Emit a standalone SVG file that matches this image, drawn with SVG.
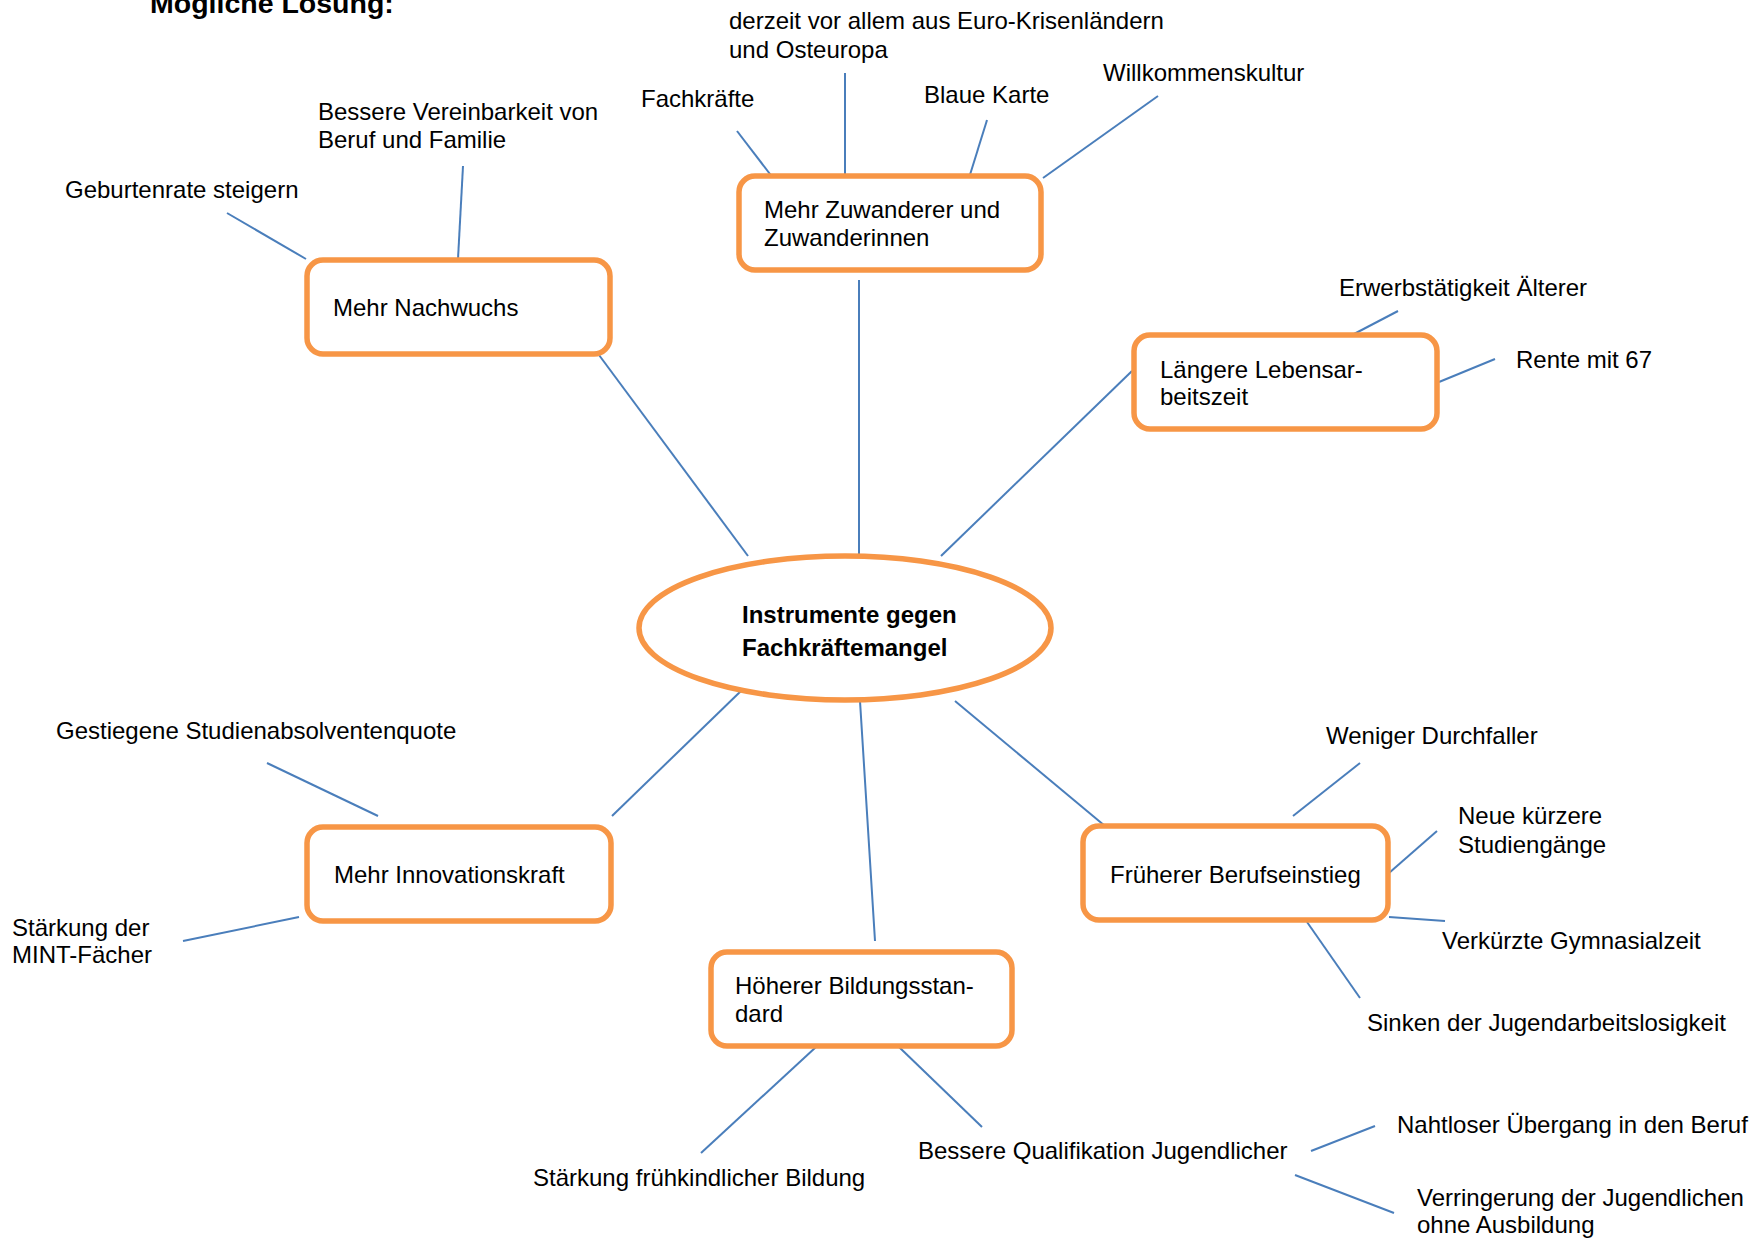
<svg xmlns="http://www.w3.org/2000/svg" width="1750" height="1239" viewBox="0 0 1750 1239">
<style>
text{font-family:"Liberation Sans",Arial,sans-serif;font-size:24px;fill:#000}
.b{font-weight:bold}
.box{fill:#fff;stroke:#F79646;stroke-width:5.5}
.c line{stroke:#4A7EBB;stroke-width:2}
</style>
<rect width="1750" height="1239" fill="#fff"/>
<text class="b" x="150" y="13" style="font-size:28.5px">Mögliche Lösung:</text>
<g class="c" id="connectors">
<line x1="599" y1="355" x2="748" y2="556"/>
<line x1="859" y1="280" x2="859" y2="556"/>
<line x1="1132" y1="371" x2="941" y2="556"/>
<line x1="742" y1="690" x2="612" y2="816"/>
<line x1="860" y1="701" x2="875" y2="941"/>
<line x1="955" y1="701" x2="1105" y2="826"/>
<line x1="227" y1="213" x2="306" y2="259"/>
<line x1="463" y1="166" x2="458" y2="259"/>
<line x1="737" y1="131" x2="773" y2="178"/>
<line x1="845" y1="73" x2="845" y2="178"/>
<line x1="987" y1="120" x2="969" y2="178"/>
<line x1="1158" y1="96" x2="1043" y2="178"/>
<line x1="1398" y1="311" x2="1354" y2="334"/>
<line x1="1495" y1="359" x2="1439" y2="382"/>
<line x1="267" y1="763" x2="378" y2="816"/>
<line x1="183" y1="941" x2="299" y2="917"/>
<line x1="1360" y1="763" x2="1293" y2="816"/>
<line x1="1437" y1="831" x2="1389" y2="873"/>
<line x1="1389" y1="917" x2="1445" y2="921"/>
<line x1="1307" y1="922" x2="1360" y2="998"/>
<line x1="816" y1="1047" x2="701" y2="1153"/>
<line x1="899" y1="1047" x2="982" y2="1127"/>
<line x1="1375" y1="1126" x2="1311" y2="1151"/>
<line x1="1295" y1="1175" x2="1394" y2="1213"/>
</g>
<g id="center">
<ellipse class="box" cx="845" cy="628" rx="206" ry="72"/>
<text class="b" x="742" y="623">Instrumente gegen</text>
<text class="b" x="742" y="656">Fachkräftemangel</text>
</g>
<g id="nachwuchs">
<rect class="box" x="307" y="260" width="303" height="94" rx="16"/>
<text x="333" y="316">Mehr Nachwuchs</text>
</g>
<g id="zuwanderer">
<rect class="box" x="739" y="176" width="302" height="94" rx="16"/>
<text x="764" y="218">Mehr Zuwanderer und</text>
<text x="764" y="246">Zuwanderinnen</text>
</g>
<g id="laengere">
<rect class="box" x="1134" y="335" width="303" height="94" rx="16"/>
<text x="1160" y="378">Längere Lebensar-</text>
<text x="1160" y="405">beitszeit</text>
</g>
<g id="innovation">
<rect class="box" x="307" y="827" width="304" height="94" rx="16"/>
<text x="334" y="883">Mehr Innovationskraft</text>
</g>
<g id="frueher">
<rect class="box" x="1083" y="826" width="305" height="94" rx="16"/>
<text x="1110" y="883">Früherer Berufseinstieg</text>
</g>
<g id="hoeher">
<rect class="box" x="711" y="952" width="301" height="94" rx="16"/>
<text x="735" y="994">Höherer Bildungsstan-</text>
<text x="735" y="1022">dard</text>
</g>
<g id="labels">
<text x="65" y="198">Geburtenrate steigern</text>
<text x="318" y="120">Bessere Vereinbarkeit von</text>
<text x="318" y="148">Beruf und Familie</text>
<text x="641" y="107">Fachkräfte</text>
<text x="729" y="29">derzeit vor allem aus Euro-Krisenländern</text>
<text x="729" y="58">und Osteuropa</text>
<text x="924" y="103">Blaue Karte</text>
<text x="1103" y="81">Willkommenskultur</text>
<text x="1339" y="296">Erwerbstätigkeit Älterer</text>
<text x="1516" y="368">Rente mit 67</text>
<text x="56" y="739">Gestiegene Studienabsolventenquote</text>
<text x="12" y="936">Stärkung der</text>
<text x="12" y="963">MINT-Fächer</text>
<text x="1326" y="744">Weniger Durchfaller</text>
<text x="1458" y="824">Neue kürzere</text>
<text x="1458" y="853">Studiengänge</text>
<text x="1442" y="949">Verkürzte Gymnasialzeit</text>
<text x="1367" y="1031">Sinken der Jugendarbeitslosigkeit</text>
<text x="533" y="1186">Stärkung frühkindlicher Bildung</text>
<text x="918" y="1159">Bessere Qualifikation Jugendlicher</text>
<text x="1397" y="1133">Nahtloser Übergang in den Beruf</text>
<text x="1417" y="1206">Verringerung der Jugendlichen</text>
<text x="1417" y="1233">ohne Ausbildung</text>
</g>
</svg>
